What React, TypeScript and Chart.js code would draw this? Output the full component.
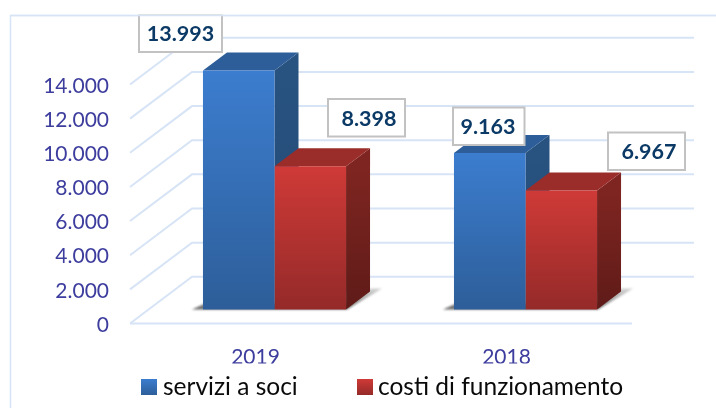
import React, { useEffect, useRef } from "react";
import { Chart, registerables } from "chart.js";

Chart.register(...registerables);

const categories = ["2019", "2018"];
const serviziValues = [13993, 9163];
const costiValues = [8398, 6967];
const seriesNames = ["servizi a soci", "costi di funzionamento"];
const tickValues = [0, 2000, 4000, 6000, 8000, 10000, 12000, 14000];

const fmt = (v: number) => String(v).replace(/\B(?=(\d{3})+$)/g, ".");

const FONT = "Lato, 'Open Sans', sans-serif";
const GRID = "#d7e4f6";
const BACK = { x: 62, y: -46.7 };
const BAR_PLANE = { x: 19, y: -14 };
const DEPTH = { x: 24, y: -18 };

const faces = [
  { top: "#2d5e99", sideA: "#28527f", sideB: "#234a78", frontA: "#3c7dcf", frontB: "#2d5e99" },
  { top: "#9a2c2a", sideA: "#7f2521", sideB: "#5f1b18", frontA: "#cf3a37", frontB: "#942a29" },
];

// callout boxes: [left, top, right, bottom, text centre x] per dataset/category
const callouts = [
  [[139, 14, 222, 52, 180.5], [453, 107.5, 524.5, 145, 488]],
  [[328, 99, 405, 136.5, 369], [608, 132.5, 685, 170, 649]],
];

const legendPos = [
  { box: 141, text: 163 },
  { box: 357, text: 378 },
];

function poly(ctx: CanvasRenderingContext2D, pts: number[][], fill: any) {
  ctx.beginPath();
  pts.forEach((p, i) => (i ? ctx.lineTo(p[0], p[1]) : ctx.moveTo(p[0], p[1])));
  ctx.closePath();
  ctx.fillStyle = fill;
  ctx.fill();
}

const scene3d = {
  id: "scene3d",
  beforeDatasetsDraw(chart: any) {
    const { ctx, scales } = chart;
    const y = scales.y;
    const left = chart.chartArea.left;
    const right = chart.chartArea.right;
    ctx.save();
    ctx.strokeStyle = GRID;
    ctx.lineWidth = 2;
    // outer frame
    ctx.beginPath();
    ctx.moveTo(10.5, 408);
    ctx.lineTo(10.5, 15.5);
    ctx.lineTo(716, 15.5);
    ctx.lineWidth = 1.5;
    ctx.stroke();
    ctx.lineWidth = 2;
    tickValues.forEach((v) => {
      const py = y.getPixelForValue(v);
      ctx.beginPath();
      ctx.moveTo(left, py);
      ctx.lineTo(left + BACK.x, py + BACK.y);
      ctx.lineTo(right + BACK.x, py + BACK.y);
      ctx.stroke();
    });
    const base = y.getPixelForValue(0);
    ctx.beginPath();
    ctx.moveTo(left, base);
    ctx.lineTo(right, base);
    ctx.stroke();

    const m0 = chart.getDatasetMeta(0).data;
    const m1 = chart.getDatasetMeta(1).data;
    // floor shadows
    m0.forEach((b: any, i: number) => {
      const x0 = b.x - b.width / 2 + BAR_PLANE.x;
      const r = m1[i];
      const x1 = r.x + r.width / 2 + BAR_PLANE.x;
      const by = b.base + BAR_PLANE.y;
      const grad = ctx.createLinearGradient(0, by - 21, 0, by);
      grad.addColorStop(0, "rgba(170,170,170,0.5)");
      grad.addColorStop(1, "rgba(90,90,90,0.95)");
      ctx.save();
      ctx.filter = "blur(1px)";
      poly(
        ctx,
        [
          [x0 - 11, by],
          [x0 + 2, by - 6],
          [x1, by - 6],
          [x1 + DEPTH.x, by - 21],
          [x1 + 36, by - 21],
          [x1 + 1, by],
        ],
        grad
      );
      ctx.restore();
    });
    // top and side faces, back series first
    [0, 1].forEach((ds) => {
      chart.getDatasetMeta(ds).data.forEach((b: any) => {
        const l = b.x - b.width / 2 + BAR_PLANE.x;
        const r = b.x + b.width / 2 + BAR_PLANE.x;
        const t = b.y + BAR_PLANE.y;
        const bt = b.base + BAR_PLANE.y;
        const f = faces[ds];
        const sg = ctx.createLinearGradient(0, t, 0, bt);
        sg.addColorStop(0, f.sideA);
        sg.addColorStop(1, f.sideB);
        poly(ctx, [[r, t], [r + DEPTH.x, t + DEPTH.y], [r + DEPTH.x, bt + DEPTH.y], [r, bt]], sg);
        poly(ctx, [[l, t], [l + DEPTH.x, t + DEPTH.y], [r + DEPTH.x, t + DEPTH.y], [r, t]], f.top);
      });
    });
    ctx.restore();
    ctx.save();
    ctx.translate(BAR_PLANE.x, BAR_PLANE.y);
  },
  afterDatasetsDraw(chart: any) {
    const { ctx } = chart;
    ctx.restore();
    ctx.save();
    // value callouts
    ctx.font = `bold 21.5px ${FONT}`;
    ctx.textAlign = "center";
    ctx.textBaseline = "middle";
    chart.data.datasets.forEach((d: any, ds: number) => {
      d.data.forEach((v: number, i: number) => {
        const [l, t, r, b, cx] = callouts[ds][i];
        ctx.fillStyle = "#ffffff";
        ctx.fillRect(l, t, r - l, b - t);
        ctx.strokeStyle = "#c2c2c2";
        ctx.lineWidth = 2;
        ctx.strokeRect(l, t, r - l, b - t);
        ctx.fillStyle = "#0c3a66";
        ctx.fillText(fmt(v), cx, (t + b) / 2 + 1);
      });
    });
    // frame passes over the clipped first callout
    ctx.strokeStyle = "#ffffff";
    ctx.lineWidth = 14;
    ctx.beginPath();
    ctx.moveTo(130, 7.5);
    ctx.lineTo(240, 7.5);
    ctx.stroke();
    ctx.strokeStyle = GRID;
    ctx.lineWidth = 1.5;
    ctx.beginPath();
    ctx.moveTo(10.5, 15.5);
    ctx.lineTo(716, 15.5);
    ctx.stroke();
    // legend
    ctx.textAlign = "left";
    ctx.textBaseline = "middle";
    ctx.font = `24.5px ${FONT}`;
    chart.data.datasets.forEach((d: any, ds: number) => {
      const f = faces[ds];
      const g = ctx.createLinearGradient(0, 379, 0, 395);
      g.addColorStop(0, f.frontA);
      g.addColorStop(1, f.frontB);
      ctx.fillStyle = g;
      ctx.fillRect(legendPos[ds].box, 379, 16, 16);
      ctx.fillStyle = "#0a0a0a";
      ctx.fillText(d.label, legendPos[ds].text, 387);
    });
    ctx.restore();
  },
};

function frontGradient(ds: number) {
  return (c: any) => {
    const chart = c.chart;
    const y = chart.scales?.y;
    const v = Number(c.raw);
    if (!y || !isFinite(v)) return faces[ds].frontA;
    const y0 = y.getPixelForValue(v);
    const y1 = y.getPixelForValue(0);
    if (!isFinite(y0) || !isFinite(y1)) return faces[ds].frontA;
    const g = chart.ctx.createLinearGradient(0, y0, 0, y1);
    g.addColorStop(0, faces[ds].frontA);
    g.addColorStop(1, faces[ds].frontB);
    return g;
  };
}

export default function App() {
  const ref = useRef<HTMLCanvasElement>(null);
  useEffect(() => {
    const chart = new Chart(ref.current as HTMLCanvasElement, {
      type: "bar",
      data: {
        labels: categories,
        datasets: [
          { label: seriesNames[0], data: serviziValues, backgroundColor: frontGradient(0), clip: false } as any,
          { label: seriesNames[1], data: costiValues, backgroundColor: frontGradient(1), clip: false } as any,
        ],
      },
      options: {
        responsive: false,
        animation: false,
        layout: { padding: { left: 30, right: 84, top: 84.5, bottom: 44.5 } },
        datasets: { bar: { barPercentage: 1, categoryPercentage: 0.57 } },
        plugins: { legend: { display: false }, tooltip: { enabled: false } },
        scales: {
          x: {
            grid: { display: false },
            border: { display: false },
            afterFit: (s: any) => { s.height = 40; },
            ticks: { color: "#3d3d9e", font: { family: FONT, size: 21 }, padding: 13 },
          },
          y: {
            min: 0,
            max: 14000,
            grid: { display: false },
            border: { display: false },
            afterFit: (s: any) => { s.width = 100; },
            afterBuildTicks: (s: any) => { s.ticks = tickValues.map((value) => ({ value })); },
            ticks: {
              color: "#3d3d9e",
              font: { family: FONT, size: 21 },
              padding: 13,
              labelOffset: 1.5,
              callback: (v: any) => fmt(Number(v)),
            },
          },
        },
      } as any,
      plugins: [scene3d],
    });
    return () => chart.destroy();
  }, []);
  return (
    <div style={{ position: "absolute", left: 0, top: 0, width: 716, height: 408, background: "#fff" }}>
      <canvas ref={ref} width={716} height={408} style={{ display: "block" }} />
    </div>
  );
}
